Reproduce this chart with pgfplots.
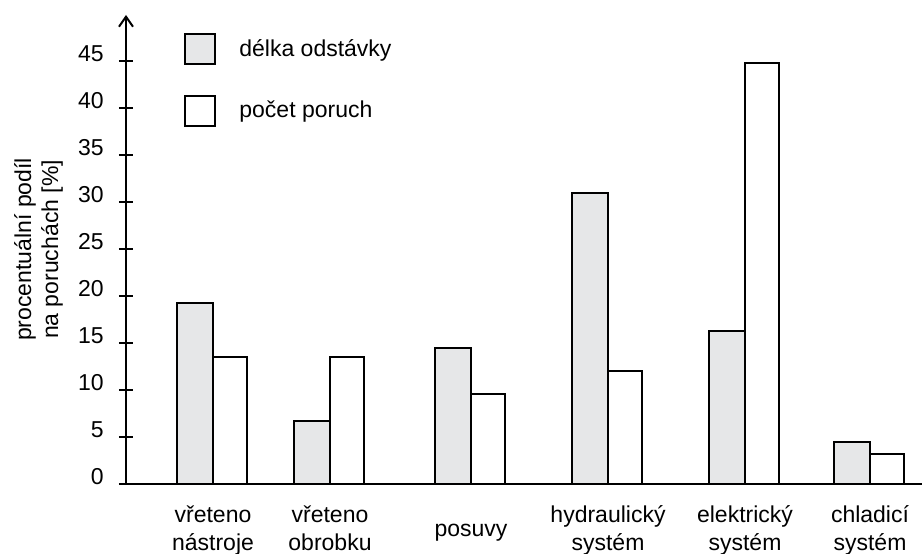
\documentclass[border=0pt]{standalone}
\usepackage{pgfplots}
\pgfplotsset{compat=1.18}
\usepackage{fontspec}
\setmainfont{Liberation Sans}
\usetikzlibrary{arrows.meta}
\definecolor{barGray}{HTML}{E6E7E8}
\begin{document}
\fontsize{11.5}{13}\selectfont
\begin{tikzpicture}
\begin{axis}[
  scale only axis,
  x=0.5pt, y=4.7pt,
  xmin=126, xmax=922, ymin=0, ymax=49.9,
  axis x line=bottom, axis y line=left,
  x axis line style={-},
  y axis line style={-{Straight Barb[length=5pt,width=7pt,line width=1pt]}},
  axis line style={line width=1pt},
  clip=false,
  ytick={0,5,...,45},
  tick align=center,
  major tick length=7pt,
  ytick style={line width=1pt, black},
  /pgf/number format/assume math mode=true,
  yticklabel style={anchor=base east, inner sep=0pt, xshift=-7.5pt, font=\fontsize{11.5}{13}\selectfont},
  xtick={213,330,471,608,745,870},
  xticklabels={{\strut vřeteno\\nástroje},{\strut vřeteno\\obrobku},{\strut\raisebox{-7pt}{posuvy}},{\strut hydraulický\\systém},{\strut elektrický\\systém},{\strut chladicí\\systém}},
  xticklabel style={align=center, anchor=north, inner sep=0pt, yshift=-5.8pt, font=\fontsize{11.5}{14}\selectfont},
  xtick style={draw=none},
  ylabel={procentuální podíl\\na poruchách [\%]},
  ylabel style={at={(axis description cs:-0.11,0.5)}, anchor=center, align=center, font=\fontsize{11.5}{13.5}\selectfont},
  legend style={draw=none, fill=none, inner sep=0pt, at={(axis cs:184,47.98)}, anchor=north west,
    row sep=14.75pt, nodes={inner sep=0pt, anchor=west}, font=\fontsize{11.5}{13}\selectfont},
  legend cell align=left,
  legend image code/.code={\path[draw=none, fill=none] (0pt,0pt) -- (27pt,0pt); \draw[#1, line width=1pt] (0pt,-7.5pt) rectangle (15pt,7.5pt);},
]
\addplot[ybar, bar width=36, bar shift=0pt, fill=barGray, draw=black, line width=1pt]
  coordinates {(195,19.3) (312,6.7) (453,14.5) (590,31.0) (727,16.3) (852,4.5)};
\addlegendentry{délka odstávky}
\addplot[ybar, bar width=34, bar shift=0pt, fill=white, draw=black, line width=1pt]
  coordinates {(230,13.5) (347,13.5) (488,9.6) (625,12.05) (762,44.8) (887,3.2)};
\addlegendentry{počet poruch}
\coordinate (bl) at (axis cs:0,-7.34);
\coordinate (tr) at (axis cs:922,51.49);
\end{axis}
\pgfresetboundingbox
\useasboundingbox (bl) rectangle (tr);
\end{tikzpicture}
\end{document}
